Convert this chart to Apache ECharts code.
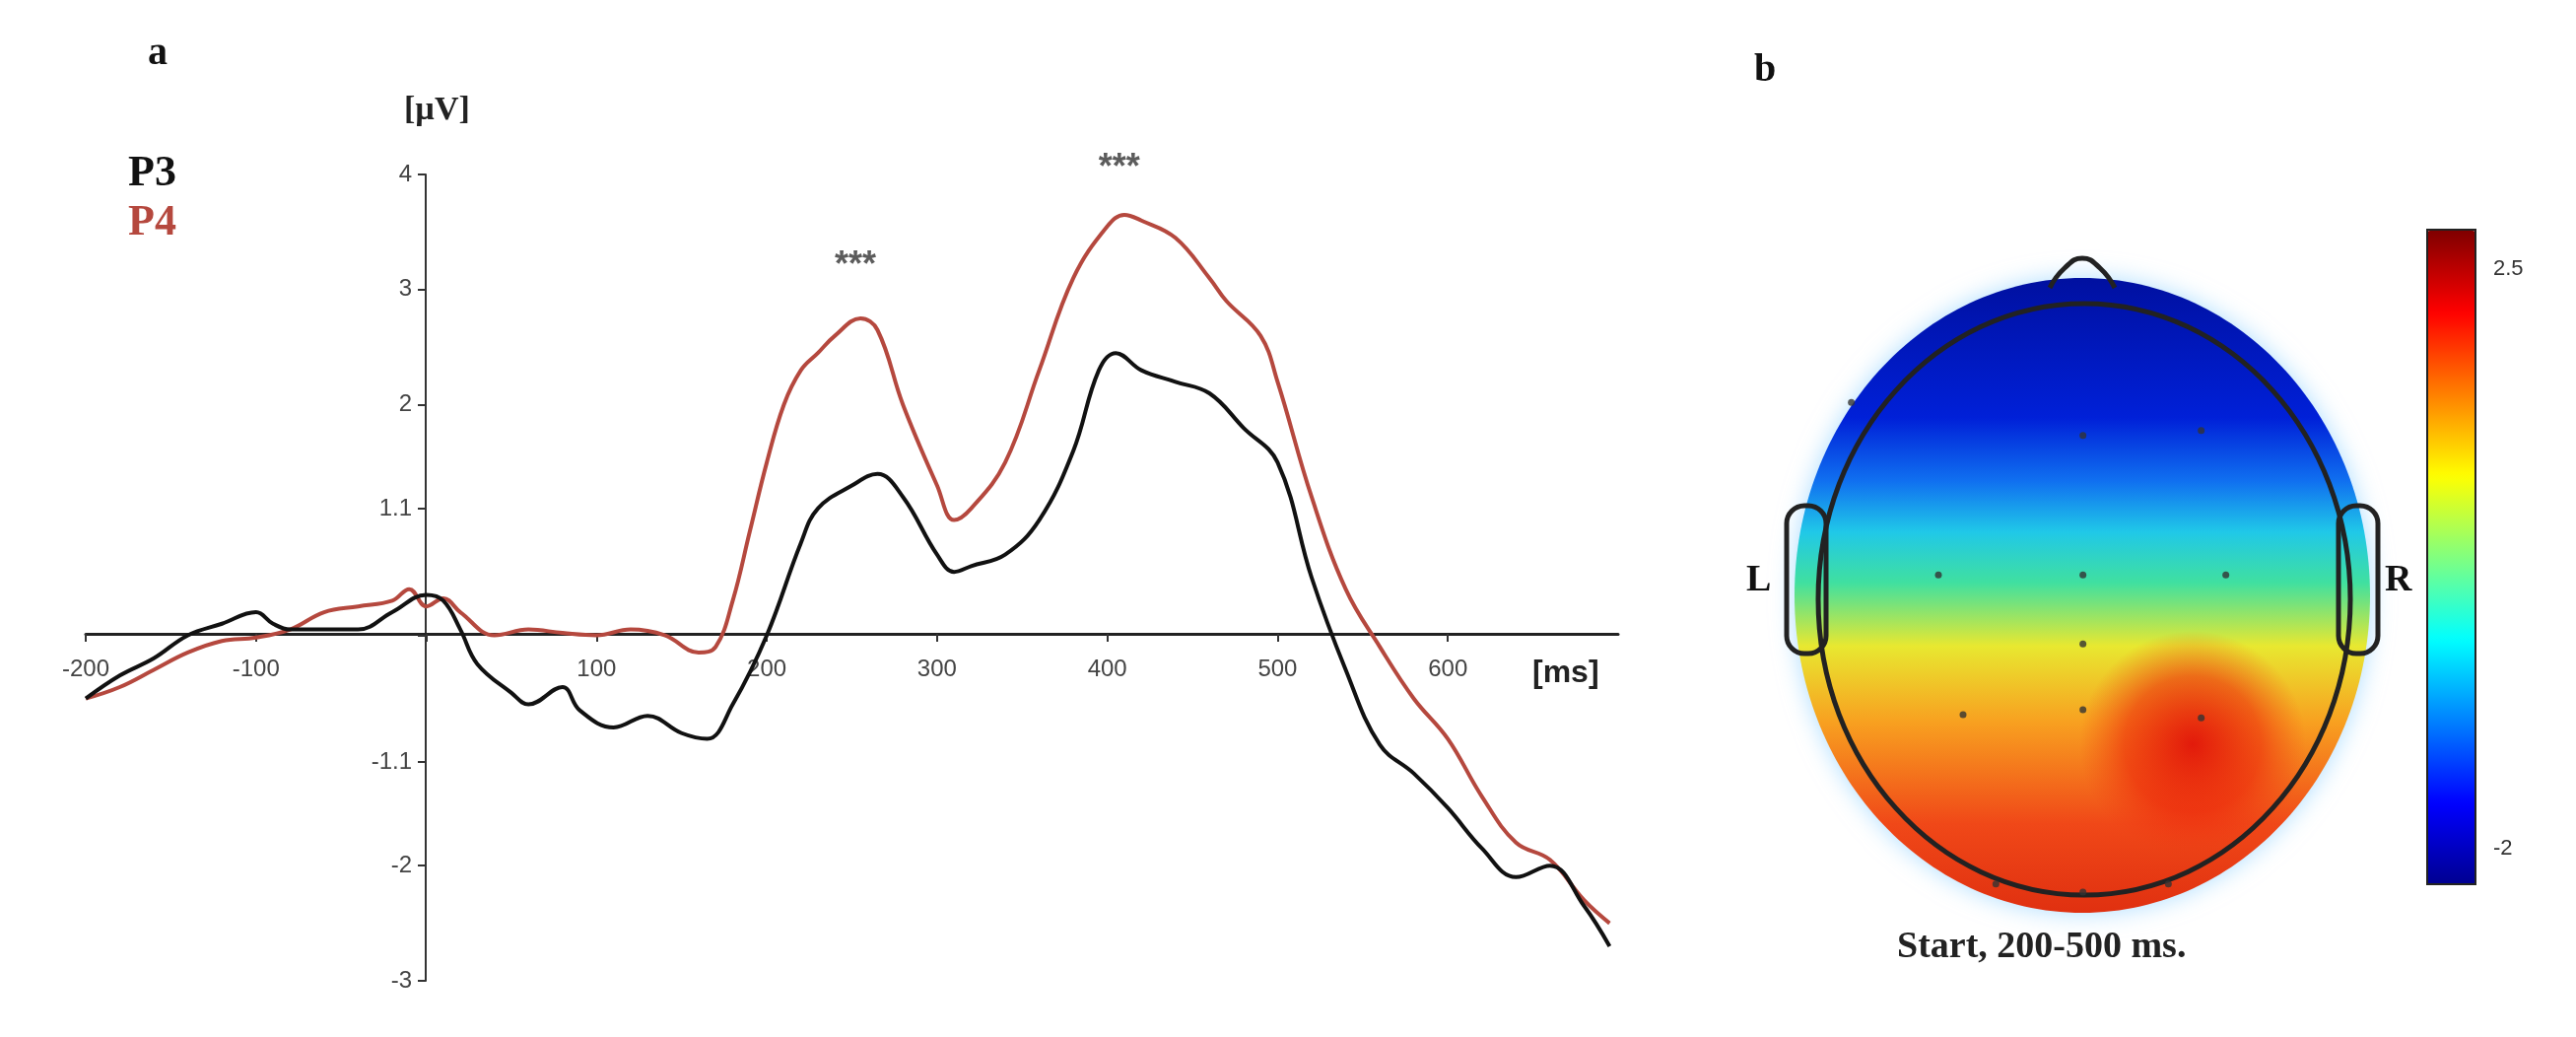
<!DOCTYPE html>
<html>
<head>
<meta charset="utf-8">
<script src="https://cdn.jsdelivr.net/npm/echarts@6/dist/echarts.min.js"></script>
<style>html,body{margin:0;background:#fff}#chart{width:2614px;height:1052px}</style>
</head>
<body>
<div id="chart"></div>
<script>
// ERP time points (ms) and amplitudes (µV)
var timeP4 = [-200,-180,-160,-140,-120,-100,-80,-60,-40,-20,-10,0,10,20,40,60,80,100,120,140,160,170,180,190,200,210,220,230,240,255,265,280,300,310,320,340,360,380,400,410,420,440,460,470,490,500,520,540,560,580,600,620,640,660,680,695];
var valP4 = [-0.55,-0.45,-0.3,-0.15,-0.05,-0.02,0.05,0.2,0.25,0.3,0.4,0.25,0.32,0.2,0.0,0.05,0.02,0.0,0.05,0.0,-0.15,-0.1,0.3,0.9,1.5,2.0,2.3,2.45,2.6,2.75,2.65,2.0,1.3,1.0,1.1,1.5,2.3,3.1,3.55,3.65,3.6,3.45,3.1,2.9,2.6,2.2,1.2,0.4,-0.1,-0.55,-0.9,-1.4,-1.8,-1.95,-2.3,-2.5];
var timeP3 = [-200,-180,-160,-140,-120,-100,-90,-80,-60,-40,-20,0,10,20,30,50,60,80,90,110,130,150,165,180,200,220,230,250,265,280,300,310,320,340,360,380,395,405,420,440,460,480,500,520,540,560,580,600,620,640,660,680,695];
var valP3 = [-0.55,-0.35,-0.2,0.0,0.1,0.2,0.1,0.05,0.05,0.05,0.2,0.35,0.3,0.05,-0.25,-0.5,-0.6,-0.45,-0.65,-0.8,-0.7,-0.85,-0.9,-0.6,0.0,0.8,1.1,1.3,1.4,1.2,0.7,0.55,0.6,0.7,1.0,1.6,2.3,2.45,2.3,2.2,2.1,1.8,1.5,0.5,-0.3,-0.95,-1.2,-1.5,-1.85,-2.1,-2.0,-2.35,-2.7];
var xTicks = [-200,-100,0,100,200,300,400,500,600];
var xLabels = [-200,-100,100,200,300,400,500,600];
var yLabels = [-3,-2,-1.1,1.1,2,3,4];
var stars = [[252,3.2],[407,4.05]];
// electrode positions (topoplot frame)
var electrodes = [[1127,245],[1268,265],[1340,262],[1180,350],[1268,350],[1355,350],[1268,392],[1195,435],[1268,432],[1340,437],[1215,538],[1268,543],[1320,538]];
var colorMin = -2, colorMax = 2.5;

function pairs(t, v) { return t.map(function (x, i) { return [x, v[i]]; }); }

var chart = echarts.init(document.getElementById('chart'));
chart.setOption({
    animation: false,
    grid: [
        { left: 87, top: 177, width: 1555, height: 818 },
        { left: 1817, top: 250, width: 600, height: 750 }
    ],
    xAxis: [{
        type: 'value', min: -200, max: 700, offset: -352,
        splitLine: { show: false },
        axisLine: { onZero: false, lineStyle: { color: '#222', width: 3 } },
        axisTick: { customValues: xTicks, length: 8, lineStyle: { color: '#333', width: 2 } },
        axisLabel: { customValues: xLabels, fontSize: 24, color: '#444', fontFamily: 'Liberation Sans', margin: 24 }
    }, {
        gridIndex: 1, type: 'value', min: 1090, max: 1450, show: false
    }],
    yAxis: [{
        type: 'value', min: -3, max: 4, offset: -345,
        splitLine: { show: false },
        axisLine: { onZero: false, lineStyle: { color: '#333', width: 2 } },
        axisTick: { customValues: yLabels.concat([0]), length: 8, lineStyle: { color: '#333', width: 2 } },
        axisLabel: { customValues: yLabels, fontSize: 24, color: '#444', fontFamily: 'Liberation Sans', margin: 14 }
    }, {
        gridIndex: 1, type: 'value', min: 150, max: 600, inverse: true, show: false
    }],
    visualMap: {
        type: 'continuous', min: colorMin, max: colorMax, seriesIndex: 3,
        orient: 'vertical', left: 2448, top: 219, itemWidth: 49, itemHeight: 664,
        calculable: false, text: ['', ''], showLabel: false,
        inRange: { color: ['#00008f', '#0000ff', '#0080ff', '#00ffff', '#80ff80', '#ffff00', '#ff8000', '#ff0000', '#800000'] }
    },
    series: [{
        type: 'line', name: 'P4', data: pairs(timeP4, valP4), smooth: 0.4, symbol: 'none',
        lineStyle: { color: '#b5483e', width: 4 }, z: 3
    }, {
        type: 'line', name: 'P3', data: pairs(timeP3, valP3), smooth: 0.4, symbol: 'none',
        lineStyle: { color: '#111', width: 4 }, z: 4
    }, {
        type: 'scatter', data: stars, symbolSize: 0, clip: false,
        label: { show: true, formatter: '***', color: '#333', fontSize: 36, fontWeight: 'bold', fontFamily: 'Liberation Sans' }
    }, {
        type: 'scatter', data: []
    }, {
        type: 'scatter', xAxisIndex: 1, yAxisIndex: 1, data: electrodes, symbolSize: 7,
        itemStyle: { color: '#333' }, z: 20
    }],
    graphic: [
        { type: 'text', left: 150, top: 35, style: { text: 'a', font: 'bold 40px Liberation Serif', fill: '#111' } },
        { type: 'text', left: 1780, top: 52, style: { text: 'b', font: 'bold 40px Liberation Serif', fill: '#111' } },
        { type: 'text', left: 410, top: 95, style: { text: '[µV]', font: 'bold 34px Liberation Serif', fill: '#222' } },
        { type: 'text', left: 130, top: 155, style: { text: 'P3', font: 'bold 44px Liberation Serif', fill: '#111' } },
        { type: 'text', left: 130, top: 205, style: { text: 'P4', font: 'bold 44px Liberation Serif', fill: '#b5483e' } },
        { type: 'text', left: 1555, top: 667, style: { text: '[ms]', font: 'bold 32px Liberation Sans', fill: '#222' } },
        // scalp map
        { type: 'ellipse', shape: { cx: 2113, cy: 604, rx: 292, ry: 322 }, z: 1,
          style: { fill: new echarts.graphic.LinearGradient(0, 0, 0, 1, [
              { offset: 0, color: '#0010a0' }, { offset: 0.22, color: '#0020d8' },
              { offset: 0.32, color: '#1070f0' }, { offset: 0.4, color: '#20c8e8' },
              { offset: 0.48, color: '#40e0a0' }, { offset: 0.58, color: '#e8e830' },
              { offset: 0.7, color: '#f8a020' }, { offset: 0.86, color: '#f04818' }, { offset: 1, color: '#e03010' }]),
              shadowBlur: 25, shadowColor: 'rgba(120,200,255,0.6)' } },
        { type: 'ellipse', shape: { cx: 2225, cy: 755, rx: 115, ry: 140 }, z: 2,
          style: { fill: new echarts.graphic.RadialGradient(0.5, 0.5, 0.5, [
              { offset: 0, color: 'rgba(225,20,10,0.95)' }, { offset: 0.6, color: 'rgba(235,30,10,0.55)' }, { offset: 1, color: 'rgba(240,60,20,0)' }]) } },
        { type: 'ellipse', shape: { cx: 2115, cy: 608, rx: 270, ry: 300 }, z: 5,
          style: { fill: 'none', stroke: '#222', lineWidth: 5 } },
        { type: 'polyline', shape: { points: [[2080, 292], [2095, 272], [2113, 262], [2131, 272], [2146, 292]], smooth: 0.5 }, z: 5,
          style: { fill: 'none', stroke: '#222', lineWidth: 5 } },
        { type: 'rect', shape: { x: 1813, y: 513, width: 40, height: 150, r: 18 }, z: 5,
          style: { fill: 'none', stroke: '#222', lineWidth: 5 } },
        { type: 'rect', shape: { x: 2373, y: 513, width: 40, height: 150, r: 18 }, z: 5,
          style: { fill: 'none', stroke: '#222', lineWidth: 5 } },
        { type: 'text', left: 1772, top: 570, style: { text: 'L', font: 'bold 38px Liberation Serif', fill: '#111' } },
        { type: 'text', left: 2420, top: 570, style: { text: 'R', font: 'bold 38px Liberation Serif', fill: '#111' } },
        { type: 'rect', shape: { x: 2463, y: 233, width: 49, height: 664 }, z: 10,
          style: { fill: 'none', stroke: '#222', lineWidth: 2 } },
        { type: 'text', left: 2530, top: 262, style: { text: '2.5', font: '22px Liberation Sans', fill: '#333' } },
        { type: 'text', left: 2530, top: 850, style: { text: '-2', font: '22px Liberation Sans', fill: '#333' } },
        { type: 'text', left: 1925, top: 942, z: 30, style: { text: 'Start, 200-500 ms.', font: 'bold 38px Liberation Serif', fill: '#222' } }
    ]
});
</script>
</body>
</html>
